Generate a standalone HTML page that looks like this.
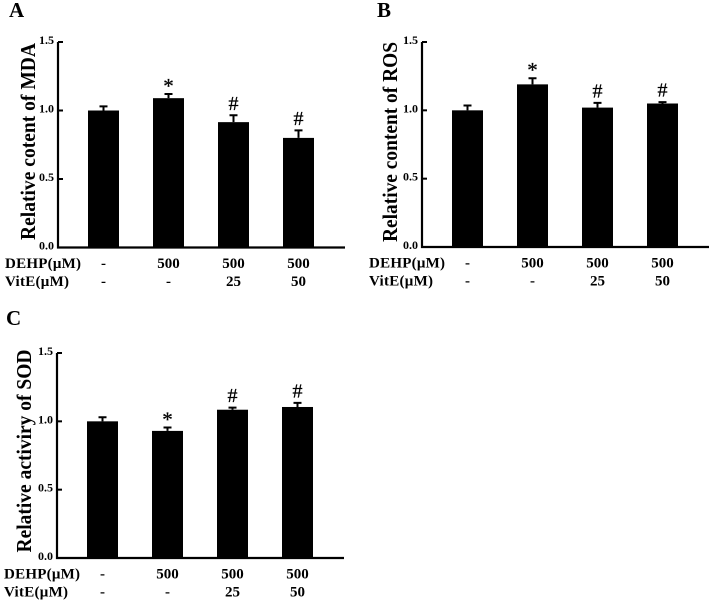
<!DOCTYPE html>
<html>
<head>
<meta charset="utf-8">
<title>Relative MDA, ROS and SOD bar charts</title>
<style>
html,body{margin:0;padding:0;background:#fff;}
body{width:711px;height:600px;overflow:hidden;}
svg{display:block;filter:blur(0.35px);}
text{font-family:"Liberation Serif",serif;font-weight:bold;fill:#000;}
</style>
</head>
<body>
<svg id="figure" width="711" height="600" viewBox="0 0 711 600" xmlns="http://www.w3.org/2000/svg"></svg>
<script>
var yTicks = [0, 0.5, 1, 1.5];
var dehpLabels = ['-', '500', '500', '500'];
var viteLabels = ['-', '-', '25', '50'];
var panelNames = ['A', 'B', 'C'];
var panelTitles = ['Relative cotent of MDA', 'Relative content of ROS', 'Relative activiry of SOD'];
var mdaValues = [1.0, 1.09, 0.915, 0.80];
var mdaErrors = [0.03, 0.03, 0.05, 0.055];
var mdaMarks = ['', '*', '#', '#'];
var rosValues = [1.0, 1.19, 1.02, 1.05];
var rosErrors = [0.035, 0.045, 0.035, 0.01];
var rosMarks = ['', '*', '#', '#'];
var sodValues = [1.0, 0.93, 1.085, 1.105];
var sodErrors = [0.03, 0.025, 0.015, 0.03];
var sodMarks = ['', '*', '#', '#'];

var svgNS = 'http://www.w3.org/2000/svg';
var root = document.getElementById('figure');

function make(tag, attrs, parent, txt) {
  var el = document.createElementNS(svgNS, tag);
  for (var k in attrs) { el.setAttribute(k, attrs[k]); }
  if (txt !== undefined) { el.textContent = txt; }
  parent.appendChild(el);
  return el;
}

function drawPanel(cfg) {
  var g = make('g', {}, root);
  
  
  var yScale = function (v) { return cfg.y0 - (v / 1.5) * (cfg.y0 - cfg.yTop); };
  var xScale = function (i) { return cfg.x0 + 45.5 + i * 65; };
  var barW = 31;

  var letter = make('text', {x: cfg.letterX, y: cfg.letterY, 'font-size': 21}, g, cfg.name);
  
  

  var cx = cfg.titleX, cy = cfg.titleY;
  var title = make('text', {x: cx, y: cy, 'font-size': 21, 'text-anchor': 'middle', transform: 'rotate(-90 ' + cx + ' ' + cy + ')', textLength: cfg.titleLen, lengthAdjust: 'spacingAndGlyphs'}, g, cfg.title);
  
  

  cfg.values.forEach(function (v, i) {
    var xc = xScale(i);
    var top = yScale(v);
    var bar = make('rect', {x: xc - barW / 2, y: top, width: barW, height: cfg.y0 - top, fill: '#000'}, g);
    
    
    var errTop = yScale(v + cfg.errors[i]);
    var err = make('path', {d: 'M' + xc + ' ' + top + 'V' + errTop + 'M' + (xc - 4) + ' ' + errTop + 'H' + (xc + 4), stroke: '#000', 'stroke-width': 2, fill: 'none'}, g);
    
    
    if (cfg.marks[i]) {
      var isStar = cfg.marks[i] === '*';
      var sig = make('text', {x: xc, y: errTop + (isStar ? -1 : -5.5), 'font-size': isStar ? 21 : 20, 'text-anchor': 'middle', stroke: '#000', 'stroke-width': 0.25, style: 'font-weight:normal'}, g, cfg.marks[i]);
      
      
    }
    var d = make('text', {x: xc, y: cfg.y0 + 20.5, 'font-size': 15, 'text-anchor': 'middle'}, g, dehpLabels[i]);
    
    
    var e = make('text', {x: xc, y: cfg.y0 + 38.5, 'font-size': 15, 'text-anchor': 'middle'}, g, viteLabels[i]);
    
    
  });

  var axes = make('path', {d: 'M' + cfg.x0 + ' ' + cfg.yTop + 'V' + cfg.y0 + 'H' + (cfg.x0 + 287), stroke: '#000', 'stroke-width': 2.2, fill: 'none'}, g);
  
  

  yTicks.forEach(function (t) {
    var y = yScale(t);
    var tick = make('line', {x1: cfg.x0, x2: cfg.x0 + 5, y1: y, y2: y, stroke: '#000', 'stroke-width': 2}, g);
    
    
    var lab = make('text', {x: cfg.x0 - 4, y: y + 2, 'font-size': 12, 'text-anchor': 'end'}, g, t.toFixed(1));
    
    
  });

  var r1 = make('text', {x: cfg.x0 - 53, y: cfg.y0 + 20.5, 'font-size': 15, textLength: 76, lengthAdjust: 'spacing'}, g, 'DEHP(μM)');
  
  
  var r2 = make('text', {x: cfg.x0 - 53, y: cfg.y0 + 38.5, 'font-size': 15, textLength: 64, lengthAdjust: 'spacing'}, g, 'VitE(μM)');
  
  
}

drawPanel({name: panelNames[0], title: panelTitles[0], values: mdaValues, errors: mdaErrors, marks: mdaMarks,
  x0: 58, y0: 247.5, yTop: 42, letterX: 9, letterY: 17, titleX: 35, titleY: 141.5, titleLen: 197});
drawPanel({name: panelNames[1], title: panelTitles[1], values: rosValues, errors: rosErrors, marks: rosMarks,
  x0: 422, y0: 247, yTop: 42, letterX: 377, letterY: 17, titleX: 397, titleY: 142, titleLen: 200});
drawPanel({name: panelNames[2], title: panelTitles[2], values: sodValues, errors: sodErrors, marks: sodMarks,
  x0: 57, y0: 558, yTop: 353, letterX: 6, letterY: 325, titleX: 31, titleY: 451, titleLen: 203});
</script>
</body>
</html>
